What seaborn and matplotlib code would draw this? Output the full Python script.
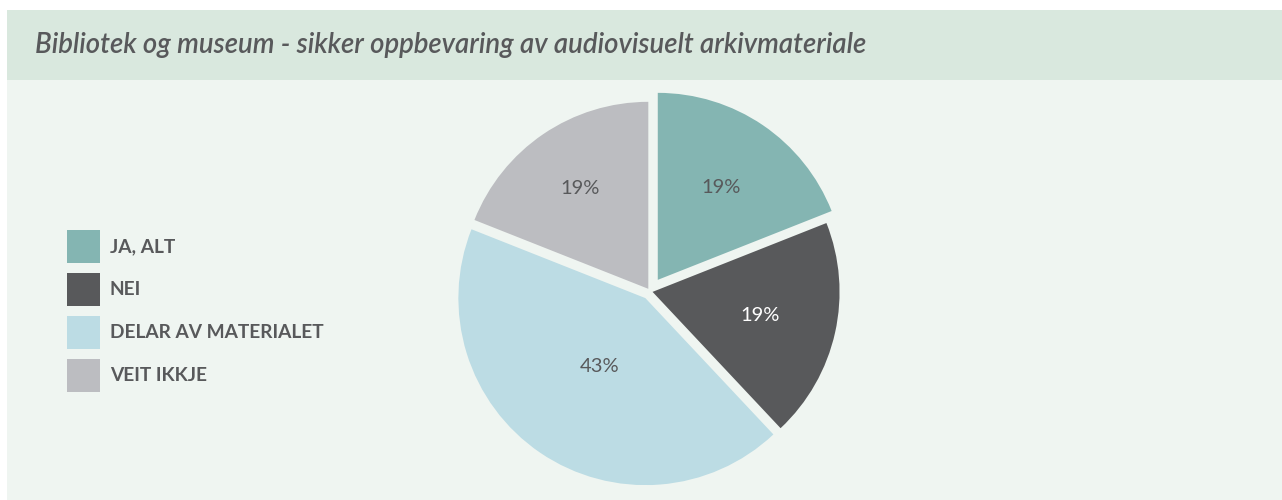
import matplotlib
matplotlib.use("Agg")
import matplotlib.pyplot as plt
from matplotlib.patches import Patch, Rectangle
import numpy as np
import seaborn as sns

# chart data
title = "Bibliotek og museum - sikker oppbevaring av audiovisuelt arkivmateriale"
categories = ["JA, ALT", "NEI", "DELAR AV MATERIALET", "VEIT IKKJE"]
shares = [19, 19, 43, 19]
slice_colors = ["#84b5b2", "#58595b", "#bcdce4", "#bcbdc1"]
label_colors = ["#58595b", "#ffffff", "#58595b", "#58595b"]
explode = [0.074, 0.014, 0.044, 0.016]
label_dist = [0.60, 0.59, 0.44, 0.65]

sns.set_theme(style="white")
plt.rcParams["font.family"] = ["Lato", "DejaVu Sans"]

text_gray = "#58595b"
banner_col = "#d9e8de"
panel_col = "#eff5f1"

W, H = 1282, 500
fig = plt.figure(figsize=(W / 100, H / 100), dpi=100)
fig.patch.set_facecolor("white")

# background panel + title banner
fig.add_artist(Rectangle((7 / W, 0), 1 - 7 / W, 420 / H, transform=fig.transFigure,
                         facecolor=panel_col, edgecolor="none", zorder=0))
fig.add_artist(Rectangle((7 / W, 420 / H), 1 - 7 / W, 70 / H, transform=fig.transFigure,
                         facecolor=banner_col, edgecolor="none", zorder=0))

ttl = fig.text(35 / W, (H - 53) / H, title, fontsize=18, fontstyle="italic",
               fontweight="semibold", color=text_gray, va="baseline", ha="left")
fig.canvas.draw()
w = ttl.get_window_extent().width
ttl.set_fontsize(18 * 833 / w)

# pie (radius 187 px, centre at 650, 291)
R = 187
S = 215
cx, cy = 650, 291.3
ax = fig.add_axes([(cx - S) / W, (H - cy - S) / H, 2 * S / W, 2 * S / H])
wedges, texts, autotexts = ax.pie(
    shares, colors=slice_colors, startangle=90, counterclock=False, radius=1,
    explode=explode, autopct=lambda p: f"{p:.0f}%",
    wedgeprops=dict(linewidth=0),
    textprops=dict(fontsize=14.5),
)
for t, d, wd, c in zip(autotexts, label_dist, wedges, label_colors):
    ang = np.deg2rad((wd.theta1 + wd.theta2) / 2)
    x0, y0 = wd.center
    t.set_position((x0 + d * np.cos(ang), y0 + d * np.sin(ang)))
    t.set_color(c)
ax.set_xlim(-S / R, S / R)
ax.set_ylim(-S / R, S / R)
ax.set_aspect("equal")
ax.axis("off")

# legend
fs = 13.8
handles = [Patch(facecolor=c, edgecolor="none") for c in slice_colors]
leg = fig.legend(handles, categories, loc="upper left",
                 bbox_to_anchor=(67 / W, (H - 230) / H), frameon=False,
                 borderpad=0, borderaxespad=0,
                 prop=dict(size=fs, weight="bold"),
                 handlelength=1.72, handleheight=2.27,
                 labelspacing=0.52, handletextpad=0.52, labelcolor=text_gray)

fig.savefig("out.png", dpi=100)
